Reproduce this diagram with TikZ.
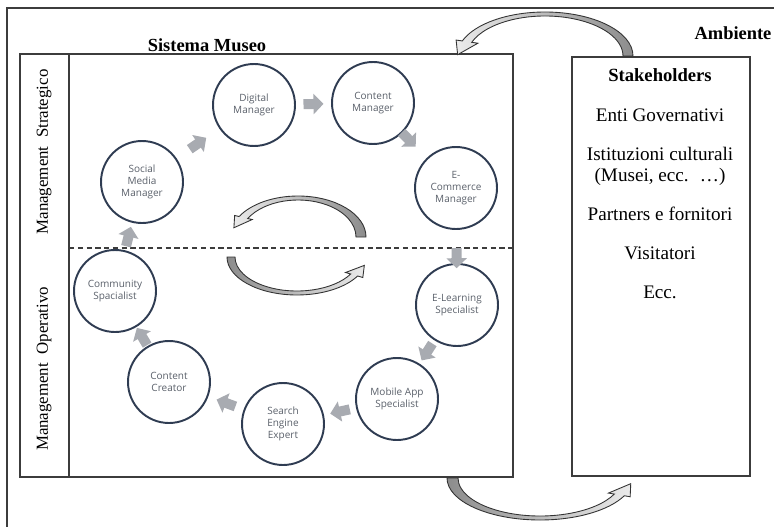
\documentclass[tikz,border=0pt]{standalone}
\usepackage{fontspec}
\setmainfont{Liberation Serif}
\newfontfamily\rolefont{Open Sans}
\usetikzlibrary{calc,arrows.meta}

\definecolor{ringblue}{RGB}{47,60,82}
\definecolor{ringtext}{RGB}{90,96,106}
\definecolor{flowgray}{RGB}{168,171,177}
\definecolor{framegray}{RGB}{60,60,60}

\tikzset{
  role/.style={circle, draw=ringblue, line width=1.1pt, minimum size=1.64cm,
    inner sep=0pt, align=center, text=ringtext,
    font=\rolefont\fontsize{5.7}{6.8}\selectfont},
  flowarrow/.style={draw=flowgray, line width=5.7pt,
    -{Triangle[width=11.4pt,length=5.7pt]}},
  box/.style={draw=framegray, line width=0.8pt},
  sidelabel/.style={rotate=90, font=\fontsize{9.6}{11}\selectfont},
  heading/.style={font=\bfseries\fontsize{10.5}{12}\selectfont},
  stake/.style={font=\fontsize{10.9}{13}\selectfont},
  bendshape/.style={draw=black!80, line width=0.5pt},
}

% block arrow half way between two roles
\newcommand{\roleflow}[3][0.5]{%
  \path ($(#2)!#1!(#3)$) coordinate (mid);
  \draw[flowarrow] ($(mid)!5.7pt!(#2)$) -- ($(mid)!5.7pt!(#3)$);
}

% curved block arrow: cx, cy, outer rx, ry, inner rx, ry, start, end, style
\def\headw{11}\def\headl{16}
\newcommand{\bendarrow}[9]{%
  \pgfmathsetmacro{\dirs}{ifthenelse(#8>#7,1,-1)}
  \pgfmathsetmacro{\oxs}{#1+#3*cos(#7)}\pgfmathsetmacro{\oys}{#2+#4*sin(#7)}
  \pgfmathsetmacro{\oxe}{#1+#3*cos(#8)}\pgfmathsetmacro{\oye}{#2+#4*sin(#8)}
  \pgfmathsetmacro{\ixe}{#1+#5*cos(#8)}\pgfmathsetmacro{\iye}{#2+#6*sin(#8)}
  \pgfmathsetmacro{\bx}{(\oxe+\ixe)/2}\pgfmathsetmacro{\by}{(\oye+\iye)/2}
  \pgfmathsetmacro{\tx}{-\dirs*(#3+#5)*sin(#8)}\pgfmathsetmacro{\ty}{\dirs*(#4+#6)*cos(#8)}
  \pgfmathsetmacro{\tl}{veclen(\tx,\ty)}
  \pgfmathsetmacro{\nx}{\oxe-\ixe}\pgfmathsetmacro{\ny}{\oye-\iye}
  \pgfmathsetmacro{\nl}{veclen(\nx,\ny)}
  \path[#9] (\oxs,\oys) arc[start angle=#7, end angle=#8, x radius=#3, y radius=#4]
    -- ({\bx+\headw*\nx/\nl},{\by+\headw*\ny/\nl})
    -- ({\bx+\headl*\tx/\tl},{\by+\headl*\ty/\tl})
    -- ({\bx-\headw*\nx/\nl},{\by-\headw*\ny/\nl})
    -- (\ixe,\iye) arc[start angle=#8, end angle=#7, x radius=#5, y radius=#6] -- cycle;
}

\begin{document}
\begin{tikzpicture}[x=0.02cm, y=-0.02cm]
\useasboundingbox (0,0) rectangle (774,527);

% frame of the environment
\draw[framegray, line width=0.6pt] (774,8) -- (7,8) -- (7,527);
\node[heading] (ambiente) at (733,33) {Ambiente};

% museum system
\node[heading] (sistema) at (207,45) {Sistema Museo};
\draw[box] (20,54) rectangle (513,477);
\draw[box] (69,54) -- (69,477);
\draw[framegray, dashed, dash pattern=on 3pt off 2pt, line width=0.6pt] (69,248) -- (513,248);
\node[sidelabel] (strat) at (44,152) {Management\ \ Strategico};
\node[sidelabel] (oper) at (44,369) {Management\ \ Operativo};

% roles
\node[role] (social) at (142,182) {Social\\Media\\Manager};
\node[role] (digital) at (254,105) {Digital\\Manager};
\node[role] (content) at (373,103) {Content\\Manager};
\node[role] (ecommerce) at (456,188) {E-\\Commerce\\Manager};
\node[role] (elearning) at (457,305) {E-Learning\\Specialist};
\node[role] (mobile) at (397,399) {Mobile App\\Specialist};
\node[role] (search) at (283,424) {Search\\Engine\\Expert};
\node[role] (creator) at (169,382) {Content\\Creator};
\node[role] (community) at (115,291) {Community\\Spacialist};

\roleflow{social}{digital}
\roleflow{digital}{content}
\roleflow[0.43]{content}{ecommerce}
\roleflow[0.6]{ecommerce}{elearning}
\roleflow{elearning}{mobile}
\roleflow{mobile}{search}
\roleflow{search}{creator}
\roleflow{creator}{community}
\roleflow{community}{social}

% stakeholders
\draw[box] (572,57) rectangle (750,476);
\node[stake, font=\bfseries\fontsize{10.6}{13}\selectfont] (stk) at (660,75) {Stakeholders};
\node[stake] (enti) at (660,115) {Enti Governativi};
\node[stake] (ist) at (660,154) {Istituzioni culturali};
\node[stake] (musei) at (660,177) {(Musei, ecc. \ …)};
\node[stake] (partners) at (660,214) {Partners e fornitori};
\node[stake] (visit) at (660,253) {Visitatori};
\node[stake] (ecc) at (660,292) {Ecc.};

% exchange arrows
\bendarrow{545}{56}{88}{44}{78}{40}{0}{-160}{bendshape, left color=black!8, right color=black!45}
\bendarrow{540}{478}{93}{42}{82}{38}{180}{25}{bendshape, left color=black!45, right color=black!8}
\def\headw{9}\def\headl{14}
\bendarrow{298}{237}{68}{41}{58}{37}{0}{-150}{bendshape, left color=black!8, right color=black!45}
\bendarrow{297}{257}{70}{38}{62}{34}{180}{30}{bendshape, left color=black!45, right color=black!8}

\end{tikzpicture}
\end{document}
